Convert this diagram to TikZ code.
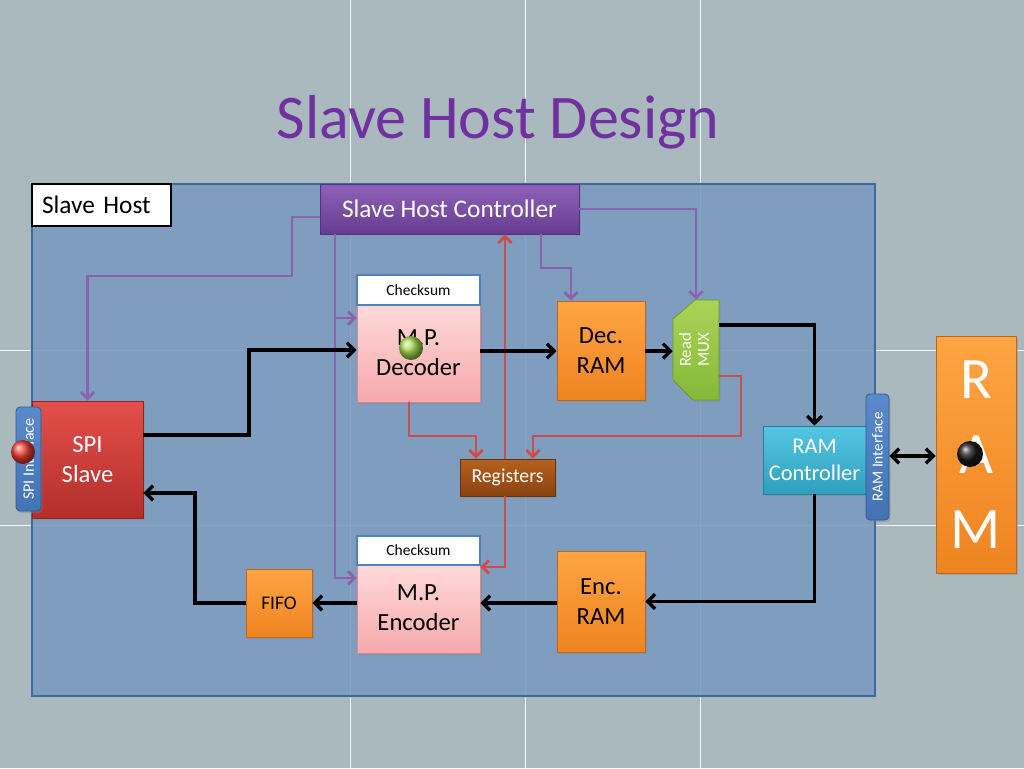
\documentclass[tikz,border=0pt]{standalone}
\usepackage{fontspec}
\usepackage{graphicx}
\setmainfont{Carlito}
\usetikzlibrary{arrows.meta,shadows}

\definecolor{bg}{HTML}{A9B9BD}
\definecolor{hostfill}{HTML}{7A9BC0}
\definecolor{hostline}{HTML}{3D6A9C}
\definecolor{titlec}{HTML}{7030A0}
\definecolor{orT}{HTML}{FFA544}
\definecolor{orB}{HTML}{EE8420}
\definecolor{orD}{HTML}{C0661A}
\definecolor{pkT}{HTML}{FFDADA}
\definecolor{pkB}{HTML}{F6A9AE}
\definecolor{pkD}{HTML}{D9868C}
\definecolor{puT}{HTML}{8D62B8}
\definecolor{puB}{HTML}{663C90}
\definecolor{puD}{HTML}{553080}
\definecolor{rdT}{HTML}{E2504A}
\definecolor{rdB}{HTML}{B42E2A}
\definecolor{rdD}{HTML}{8E2420}
\definecolor{cyT}{HTML}{55C6E2}
\definecolor{cyB}{HTML}{2E9FBE}
\definecolor{cyD}{HTML}{23809A}
\definecolor{brT}{HTML}{B5611F}
\definecolor{brB}{HTML}{8A4210}
\definecolor{brD}{HTML}{6A320A}
\definecolor{grT}{HTML}{AAD457}
\definecolor{grB}{HTML}{86B83A}
\definecolor{grD}{HTML}{6C9A2A}
\definecolor{gball}{HTML}{A8DC50}
\definecolor{rball}{HTML}{F03C30}
\definecolor{ifT}{HTML}{5A8ACB}
\definecolor{ifB}{HTML}{4273B4}
\definecolor{ifD}{HTML}{2F5A94}
\definecolor{ckD}{HTML}{4F81BD}
\definecolor{purpline}{HTML}{8A62AE}
\definecolor{redline}{HTML}{CC4E4A}

\tikzset{
  box/.style={rectangle, inner sep=0pt, align=center, line width=0.6pt,
    drop shadow={shadow xshift=1.2pt, shadow yshift=-1.5pt, opacity=0.35}},
  orangebox/.style={box, top color=orT, bottom color=orB, draw=orD, text=black},
  pinkbox/.style={box, top color=pkT, bottom color=pkB, draw=pkD, text=black},
  purplebox/.style={box, top color=puT, bottom color=puB, draw=puD, text=white},
  redbox/.style={box, top color=rdT, bottom color=rdB, draw=rdD, text=white},
  cyanbox/.style={box, top color=cyT, bottom color=cyB, draw=cyD, text=white},
  brownbox/.style={box, top color=brT, bottom color=brB, draw=brD, text=white},
  ifbox/.style={box, rounded corners=3pt, top color=ifT, bottom color=ifB, draw=ifD, text=white},
  ckbox/.style={rectangle, fill=white, draw=ckD, line width=1.5pt, inner sep=0pt,
    font=\fontsize{11.6}{14}\selectfont},
  bigtext/.style={font=\fontsize{18.5}{22.5}\selectfont},
  blk/.style={line width=2.5pt, black, -{Straight Barb[length=5.5pt,width=11pt]}},
  blkboth/.style={line width=2.5pt, black, {Straight Barb[length=5.5pt,width=11pt]}-{Straight Barb[length=5.5pt,width=11pt]}},
  pur/.style={line width=2.1pt, purpline, -{Straight Barb[length=5pt,width=10pt]}},
  red/.style={line width=2.1pt, redline, -{Straight Barb[length=5pt,width=10pt]}},
  gridline/.style={white, line width=0.6pt, opacity=0.85},
  ball/.style={circle, inner sep=0pt, minimum size=18pt, shading=ball}
}

\begin{document}
\begin{tikzpicture}[x=0.75pt,y=-0.75pt]
\useasboundingbox (0,0) rectangle (1024,768);
\fill[bg] (0,0) rectangle (1024,768);
% background grid
\foreach \gx in {350,525,700} \draw[gridline] (\gx,0) -- (\gx,768);
\foreach \gy in {350,525} \draw[gridline] (0,\gy) -- (1024,\gy);

% title
\node[anchor=base, text=titlec, font=\fontsize{46.5}{50}\selectfont] (title) at (498,138) {Slave Host Design};

% main host box
\node[rectangle, fill=hostfill, fill opacity=0.88, draw=hostline, line width=1.5pt,
  minimum width=632.25pt, minimum height=384pt, inner sep=0pt] (host) at (453.5,440) {};
\node[rectangle, fill=white, draw=black, line width=1.8pt, minimum height=31.5pt,
  text width=89.25pt, inner xsep=7.5pt, inner ysep=0pt, align=left,
  font=\fontsize{19}{22}\selectfont] (hostlabel) at (101.5,205) {Slave Host};

% controller
\node[purplebox, minimum width=194.25pt, minimum height=37.5pt, font=\fontsize{19}{22}\selectfont]
  (ctrl) at (449.5,209) {Slave Host Controller};

% decoder
\node[pinkbox, bigtext, minimum width=92.25pt, minimum height=74.25pt] (dec) at (418.5,352.5) {M.P.\\Decoder};
\node[ckbox, minimum width=92.25pt, minimum height=22.5pt] (ckd) at (418.5,290) {Checksum};
\node[ball, ball color=gball, minimum size=18pt] (gb) at (411,348) {};

% dec ram
\node[orangebox, bigtext, minimum width=66pt, minimum height=74.25pt] (decram) at (601,350.5) {Dec.\\RAM};

% mux
\path[top color=grT, bottom color=grB, draw=grD, line width=0.6pt,
  drop shadow={shadow xshift=1.2pt, shadow yshift=-1.5pt, opacity=0.35}]
  (695,300) -- (719,300) -- (719,400) -- (693,400) -- (673,380) -- (673,319) -- cycle;
\node[rectangle, inner sep=0pt, minimum width=34.5pt, minimum height=75pt, text=white,
  font=\fontsize{12.5}{14.5}\selectfont] (mux) at (696,350)
  {\rotatebox{90}{\begin{tabular}{@{}c@{}}Read\\[-1pt]MUX\end{tabular}}};

% ram controller
\node[cyanbox, minimum width=77.25pt, minimum height=51pt, font=\fontsize{16.8}{20}\selectfont]
  (ramctl) at (814.5,460) {RAM\\Controller};
\node[ifbox, minimum width=17.25pt, minimum height=94.5pt, font=\fontsize{11.5}{13}\selectfont]
  (ramif) at (877.5,457) {\rotatebox{90}{RAM Interface}};

% RAM
\node[orangebox, text=white, minimum width=60pt, minimum height=177.75pt,
  font=\fontsize{44}{56.25}\selectfont] (ram) at (976,454.5) {R\\A\\M};
\node[ball, ball color=black!90, minimum size=19.5pt] (kball) at (970,454) {};

% SPI slave
\node[redbox, bigtext, minimum width=83.25pt, minimum height=87.75pt] (spi) at (87.5,459.5) {SPI\\Slave};
\node[ifbox, minimum width=18.75pt, minimum height=78pt, font=\fontsize{12}{14}\selectfont]
  (spiif) at (28.5,459) {\rotatebox{90}{SPI Interface}};
\node[ball, ball color=rball, minimum size=18pt] (rb) at (23,452) {};

% registers
\node[brownbox, minimum width=71.25pt, minimum height=27.75pt, font=\fontsize{14.8}{17}\selectfont]
  (reg) at (507.5,477.5) {Registers};

% encoder
\node[pinkbox, bigtext, minimum width=92.25pt, minimum height=67.5pt] (enc) at (418.5,608) {M.P.\\Encoder};
\node[ckbox, minimum width=92.25pt, minimum height=21.75pt] (cke) at (418.5,550.5) {Checksum};

% enc ram
\node[orangebox, bigtext, minimum width=66pt, minimum height=75.75pt] (encram) at (601,601.5) {Enc.\\RAM};

% fifo
\node[orangebox, minimum width=49.5pt, minimum height=51pt, font=\fontsize{14.5}{17}\selectfont]
  (fifo) at (279,603) {FIFO};

% ---- purple control lines
\draw[pur] (ctrl.west |- 0,217) -| (292,276) -| (spi.north);
\coordinate (pj) at (335,318);
\draw[pur] (ctrl.south -| 335,0) |- (enc.west |- 0,578);
\draw[pur] (pj) -- (dec.west |- pj);
\draw[pur] (ctrl.south -| 541,0) -- (541,268) -| (decram.north -| 571,0);
\draw[pur] (ctrl.east |- 0,209) -| (mux.north);

% ---- red register lines
\draw[red] (dec.south -| 409,0) -- (409,436) -| (reg.north -| 476,0);
\draw[red] (mux.east |- 0,376) -| (741,436) -| (reg.north -| 533,0);
\draw[red] (reg.north -| 505,0) -- (ctrl.south -| 505,0);
\draw[red] (reg.south -| 505,0) |- (enc.east |- 0,567);

% ---- black data lines
\draw[blk] (spi.east |- 0,435) -| (249,350) -- (dec.west |- 0,350);
\draw[blk] (dec.east |- 0,351) -- (decram.west |- 0,351);
\draw[blk] (decram.east |- 0,351) -- (mux.west |- 0,351);
\draw[blk] (mux.east |- 0,325) -| (ramctl.north);
\draw[blk] (ramctl.south) |- (encram.east);
\draw[blk] (encram.west |- 0,603) -- (enc.east |- 0,603);
\draw[blk] (enc.west |- 0,603) -- (fifo.east);
\draw[blk] (fifo.west) -| (195,493) -- (spi.east |- 0,493);
\draw[blkboth] (ramif.east |- 0,456) -- (ram.west |- 0,456);
\end{tikzpicture}
\end{document}
